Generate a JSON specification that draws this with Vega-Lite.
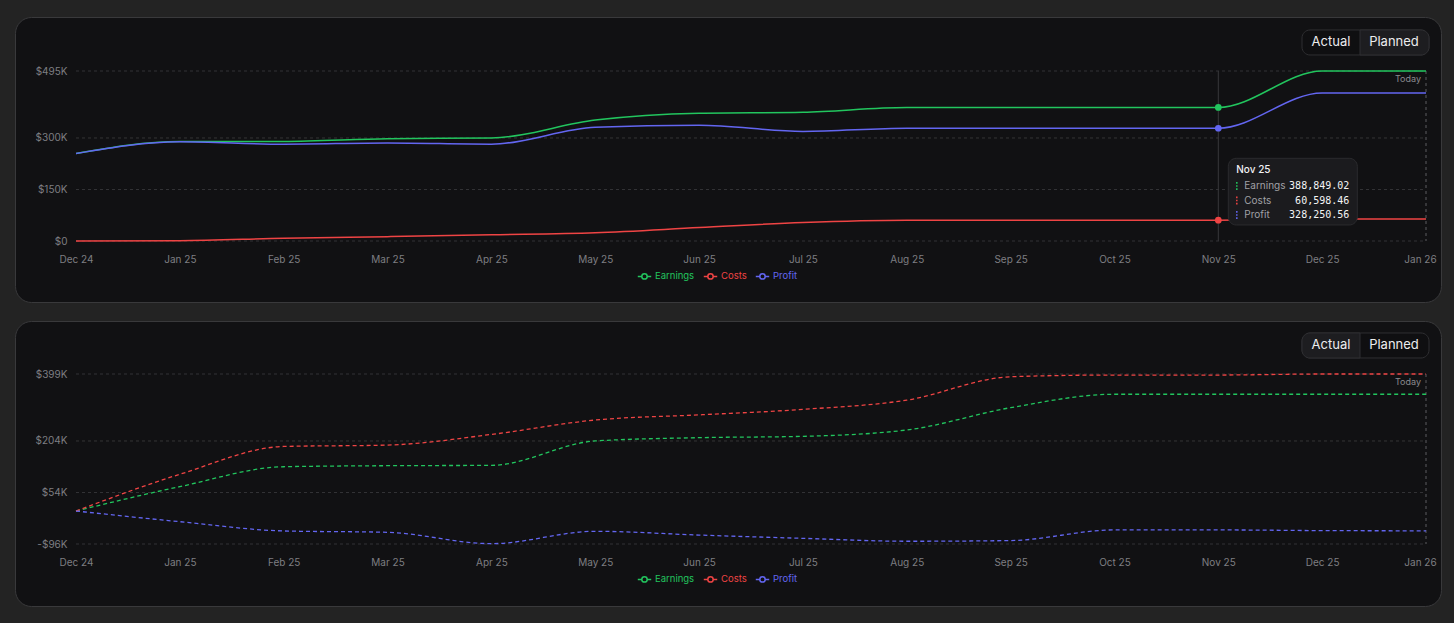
{
  "$schema": "https://vega.github.io/schema/vega-lite/v6.json",
  "background": "#232323",
  "padding": {"left": 14, "top": 16, "right": 14, "bottom": 16},
  "spacing": 17,
  "config": {
    "font": "Inter",
    "view": {"stroke": null},
    "axis": {"labelFont": "Inter", "labelFontSize": 10, "labelColor": "#7e7e82", "domain": false, "ticks": false, "tickSize": 0, "grid": false, "labelPadding": 0},
    "legend": {"padding": 0, "symbolSize": 180, "symbolStrokeWidth": 1.5, "symbolFillColor": "transparent", "labelFontSize": 9.5, "labelFont": "Inter", "labelOffset": 3, "columnPadding": 5}
  },
  "resolve": {"scale": {"color": "independent", "x": "independent", "y": "independent"}, "legend": {"color": "independent"}},
  "datasets": {
    "ticksA": [{"v": 0}, {"v": 150000}, {"v": 300000}, {"v": 495000}],
    "ticksP": [{"v": -96000}, {"v": 54000}, {"v": 204000}, {"v": 399000}],
    "actual": [
      {"month": "Dec 24", "series": "Earnings", "value": 255000},
      {"month": "Jan 25", "series": "Earnings", "value": 290000},
      {"month": "Feb 25", "series": "Earnings", "value": 290000},
      {"month": "Mar 25", "series": "Earnings", "value": 298000},
      {"month": "Apr 25", "series": "Earnings", "value": 300000},
      {"month": "May 25", "series": "Earnings", "value": 352000},
      {"month": "Jun 25", "series": "Earnings", "value": 372000},
      {"month": "Jul 25", "series": "Earnings", "value": 375000},
      {"month": "Aug 25", "series": "Earnings", "value": 388849.02},
      {"month": "Sep 25", "series": "Earnings", "value": 388849.02},
      {"month": "Oct 25", "series": "Earnings", "value": 388849.02},
      {"month": "Nov 25", "series": "Earnings", "value": 388849.02},
      {"month": "Dec 25", "series": "Earnings", "value": 495000},
      {"month": "Jan 26", "series": "Earnings", "value": 495000},
      {"month": "Dec 24", "series": "Costs", "value": 0},
      {"month": "Jan 25", "series": "Costs", "value": 1000},
      {"month": "Feb 25", "series": "Costs", "value": 8000},
      {"month": "Mar 25", "series": "Costs", "value": 12600},
      {"month": "Apr 25", "series": "Costs", "value": 18000},
      {"month": "May 25", "series": "Costs", "value": 24000},
      {"month": "Jun 25", "series": "Costs", "value": 39000},
      {"month": "Jul 25", "series": "Costs", "value": 54000},
      {"month": "Aug 25", "series": "Costs", "value": 60598.46},
      {"month": "Sep 25", "series": "Costs", "value": 60598.46},
      {"month": "Oct 25", "series": "Costs", "value": 60598.46},
      {"month": "Nov 25", "series": "Costs", "value": 60598.46},
      {"month": "Dec 25", "series": "Costs", "value": 64000},
      {"month": "Jan 26", "series": "Costs", "value": 64000},
      {"month": "Dec 24", "series": "Profit", "value": 255000},
      {"month": "Jan 25", "series": "Profit", "value": 289000},
      {"month": "Feb 25", "series": "Profit", "value": 282000},
      {"month": "Mar 25", "series": "Profit", "value": 285400},
      {"month": "Apr 25", "series": "Profit", "value": 282000},
      {"month": "May 25", "series": "Profit", "value": 331000},
      {"month": "Jun 25", "series": "Profit", "value": 337000},
      {"month": "Jul 25", "series": "Profit", "value": 319000},
      {"month": "Aug 25", "series": "Profit", "value": 328250.56},
      {"month": "Sep 25", "series": "Profit", "value": 328250.56},
      {"month": "Oct 25", "series": "Profit", "value": 328250.56},
      {"month": "Nov 25", "series": "Profit", "value": 328250.56},
      {"month": "Dec 25", "series": "Profit", "value": 431000},
      {"month": "Jan 26", "series": "Profit", "value": 431000}
    ],
    "planned": [
      {"month": "Dec 24", "series": "Earnings", "value": 0},
      {"month": "Jan 25", "series": "Earnings", "value": 71000},
      {"month": "Feb 25", "series": "Earnings", "value": 129000},
      {"month": "Mar 25", "series": "Earnings", "value": 132000},
      {"month": "Apr 25", "series": "Earnings", "value": 133000},
      {"month": "May 25", "series": "Earnings", "value": 204000},
      {"month": "Jun 25", "series": "Earnings", "value": 213600},
      {"month": "Jul 25", "series": "Earnings", "value": 217500},
      {"month": "Aug 25", "series": "Earnings", "value": 236000},
      {"month": "Sep 25", "series": "Earnings", "value": 301000},
      {"month": "Oct 25", "series": "Earnings", "value": 340000},
      {"month": "Nov 25", "series": "Earnings", "value": 340000},
      {"month": "Dec 25", "series": "Earnings", "value": 340000},
      {"month": "Jan 26", "series": "Earnings", "value": 340000},
      {"month": "Dec 24", "series": "Costs", "value": 0},
      {"month": "Jan 25", "series": "Costs", "value": 107000},
      {"month": "Feb 25", "series": "Costs", "value": 188000},
      {"month": "Mar 25", "series": "Costs", "value": 192000},
      {"month": "Apr 25", "series": "Costs", "value": 223000},
      {"month": "May 25", "series": "Costs", "value": 265000},
      {"month": "Jun 25", "series": "Costs", "value": 280000},
      {"month": "Jul 25", "series": "Costs", "value": 296000},
      {"month": "Aug 25", "series": "Costs", "value": 323000},
      {"month": "Sep 25", "series": "Costs", "value": 391000},
      {"month": "Oct 25", "series": "Costs", "value": 396000},
      {"month": "Nov 25", "series": "Costs", "value": 396000},
      {"month": "Dec 25", "series": "Costs", "value": 399000},
      {"month": "Jan 26", "series": "Costs", "value": 399000},
      {"month": "Dec 24", "series": "Profit", "value": 0},
      {"month": "Jan 25", "series": "Profit", "value": -31000},
      {"month": "Feb 25", "series": "Profit", "value": -58000},
      {"month": "Mar 25", "series": "Profit", "value": -62000},
      {"month": "Apr 25", "series": "Profit", "value": -95000},
      {"month": "May 25", "series": "Profit", "value": -59000},
      {"month": "Jun 25", "series": "Profit", "value": -70000},
      {"month": "Jul 25", "series": "Profit", "value": -79500},
      {"month": "Aug 25", "series": "Profit", "value": -88000},
      {"month": "Sep 25", "series": "Profit", "value": -86000},
      {"month": "Oct 25", "series": "Profit", "value": -55000},
      {"month": "Nov 25", "series": "Profit", "value": -55000},
      {"month": "Dec 25", "series": "Profit", "value": -57000},
      {"month": "Jan 26", "series": "Profit", "value": -57600}
    ]
  },
  "vconcat": [
    {
      "width": 1426,
      "height": 285,
      "view": {"fill": "#111113", "stroke": "#39393b", "strokeWidth": 1, "cornerRadius": 16},
      "resolve": {"scale": {"y": "independent"}},
      "layer": [
        {
          "layer": [
            {
              "data": {"name": "ticksA"},
              "mark": {"type": "rule", "stroke": "#333336", "strokeDash": [3, 3], "strokeWidth": 1},
              "encoding": {
                "x": {"datum": "Dec 24", "type": "ordinal", "scale": {"type": "point", "domain": ["Dec 24", "Jan 25", "Feb 25", "Mar 25", "Apr 25", "May 25", "Jun 25", "Jul 25", "Aug 25", "Sep 25", "Oct 25", "Nov 25", "Dec 25", "Jan 26"], "range": [61, 1411], "padding": 0}},
                "x2": {"datum": "Jan 26"},
                "y": {"field": "v", "type": "quantitative", "scale": {"domain": [0, 495000], "range": [224, 54], "nice": false, "zero": false}, "axis": {"title": null}}
              }
            },
            {
              "data": {"values": [{}]},
              "mark": {"type": "rule", "stroke": "#38383b", "strokeWidth": 1},
              "encoding": {"x": {"datum": "Nov 25", "type": "ordinal"}, "y": {"datum": 495000, "type": "quantitative"}, "y2": {"datum": 0}}
            },
            {
              "data": {"values": [{}]},
              "mark": {"type": "rule", "stroke": "#5c5c60", "strokeDash": [3, 3], "strokeWidth": 1},
              "encoding": {"x": {"datum": "Jan 26", "type": "ordinal"}, "y": {"datum": 495000, "type": "quantitative"}, "y2": {"datum": 0}}
            },
            {
              "data": {"values": [{}]},
              "mark": {"type": "text", "text": "Today", "align": "right", "baseline": "middle", "dx": -5, "fontSize": 9, "fill": "#8a8a8e"},
              "encoding": {"x": {"datum": "Jan 26", "type": "ordinal"}, "y": {"datum": 471700, "type": "quantitative"}}
            },
            {
              "data": {"name": "actual"},
              "mark": {"type": "line", "interpolate": "monotone", "strokeWidth": 1.5},
              "encoding": {
                "x": {"field": "month", "type": "ordinal", "sort": ["Dec 24", "Jan 25", "Feb 25", "Mar 25", "Apr 25", "May 25", "Jun 25", "Jul 25", "Aug 25", "Sep 25", "Oct 25", "Nov 25", "Dec 25", "Jan 26"],
                  "scale": {"type": "point", "domain": ["Dec 24", "Jan 25", "Feb 25", "Mar 25", "Apr 25", "May 25", "Jun 25", "Jul 25", "Aug 25", "Sep 25", "Oct 25", "Nov 25", "Dec 25", "Jan 26"], "range": [61, 1411], "padding": 0},
                  "axis": {"title": null, "offset": -43, "labelPadding": 0, "labelAngle": 0, "labelAlign": "center", "labelBaseline": "middle", "labelOverlap": false, "labelFlush": false, "labelOffset": {"condition": {"test": "datum.value === 'Jan 26'", "value": -6}, "value": 0}}},
                "y": {"field": "value", "type": "quantitative",
                  "axis": {"title": null, "values": [0, 150000, 300000, 495000], "labelExpr": "datum.value === 0 ? '$0' : (datum.value < 0 ? '-$' : '$') + format(abs(datum.value) / 1000, 'd') + 'K'", "offset": -52, "labelPadding": 0, "labelBaseline": "middle", "labelAlign": "right", "labelFlush": false, "labelOverlap": false}},
                "color": {"field": "series", "type": "nominal",
                  "scale": {"domain": ["Earnings", "Costs", "Profit"], "range": ["#22c55e", "#ef4444", "#6366f1"]},
                  "legend": {"title": null, "orient": "none", "legendX": 622, "legendY": 251.5, "direction": "horizontal", "symbolType": "M-1,0H-0.4M0.4,0H1M0.4,0A0.4,0.4,0,1,1,-0.4,0A0.4,0.4,0,1,1,0.4,0", "labelColor": {"expr": "datum.value === 'Earnings' ? '#22c55e' : datum.value === 'Costs' ? '#ef4444' : '#6366f1'"}}}
              }
            },
            {
              "data": {"name": "actual"},
              "transform": [{"filter": "datum.month === 'Nov 25'"}],
              "mark": {"type": "point", "filled": true, "size": 45, "opacity": 1},
              "encoding": {
                "x": {"field": "month", "type": "ordinal"},
                "y": {"field": "value", "type": "quantitative"},
                "fill": {"condition": [{"test": "datum.series === 'Earnings'", "value": "#22c55e"}, {"test": "datum.series === 'Costs'", "value": "#ef4444"}], "value": "#6366f1"}
              }
            },
            {
              "data": {"values": [{}]},
              "mark": {"type": "rect", "fill": "#0f0f11", "stroke": "#2f2f32", "strokeWidth": 1, "cornerRadius": 8, "xOffset": -124, "x2Offset": 3},
              "encoding": {"x": {"datum": "Jan 26", "type": "ordinal"}, "x2": {"datum": "Jan 26"}, "y": {"datum": 614400, "type": "quantitative"}, "y2": {"datum": 541600}}
            },
            {
              "data": {"values": [{}]},
              "mark": {"type": "rect", "fill": "#1d1d20", "stroke": "#2f2f32", "strokeWidth": 1, "cornerRadiusTopRight": 8, "cornerRadiusBottomRight": 8, "xOffset": -66, "x2Offset": 3},
              "encoding": {"x": {"datum": "Jan 26", "type": "ordinal"}, "x2": {"datum": "Jan 26"}, "y": {"datum": 614400, "type": "quantitative"}, "y2": {"datum": 541600}}
            },
            {
              "data": {"values": [{}]},
              "mark": {"type": "text", "text": "Actual", "align": "center", "baseline": "middle", "dx": -95, "fontSize": 13, "fill": "#ececee"},
              "encoding": {"x": {"datum": "Jan 26", "type": "ordinal"}, "y": {"datum": 578000, "type": "quantitative"}}
            },
            {
              "data": {"values": [{}]},
              "mark": {"type": "text", "text": "Planned", "align": "center", "baseline": "middle", "dx": -32, "fontSize": 13, "fill": "#ececee"},
              "encoding": {"x": {"datum": "Jan 26", "type": "ordinal"}, "y": {"datum": 578000, "type": "quantitative"}}
            },
            {
              "data": {"values": [{}]},
              "mark": {"type": "rect", "fill": "#1b1b1e", "stroke": "#2b2b2e", "strokeWidth": 1, "cornerRadius": 8, "xOffset": 10, "x2Offset": 139},
              "encoding": {"x": {"datum": "Nov 25", "type": "ordinal"}, "x2": {"datum": "Nov 25"}, "y": {"datum": 240800, "type": "quantitative"}, "y2": {"datum": 46600}}
            },
            {
              "data": {"values": [{}]},
              "mark": {"type": "text", "text": "Nov 25", "align": "left", "baseline": "middle", "dx": 18, "fontSize": 10, "fontWeight": 500, "fill": "#f2f2f4"},
              "encoding": {"x": {"datum": "Nov 25", "type": "ordinal"}, "y": {"datum": 205900, "type": "quantitative"}}
            }
          ]
        },
        {
          "data": {"name": "actual"},
          "transform": [{"filter": "datum.month === 'Nov 25'"}],
          "encoding": {
            "x": {"datum": "Nov 25", "type": "ordinal"},
            "y": {"field": "series", "type": "ordinal", "scale": {"type": "point", "domain": ["Earnings", "Costs", "Profit"], "range": [169, 198], "padding": 0}, "axis": null}
          },
          "layer": [
            {
              "mark": {"type": "point", "shape": "M0,-1V-0.55M0,-0.2V0.2M0,0.55V1", "size": 64, "strokeWidth": 1.5, "filled": false, "opacity": 1, "xOffset": 18.5},
              "encoding": {"stroke": {"condition": [{"test": "datum.series === 'Earnings'", "value": "#22c55e"}, {"test": "datum.series === 'Costs'", "value": "#ef4444"}], "value": "#6366f1"}}
            },
            {
              "mark": {"type": "text", "align": "left", "baseline": "middle", "dx": 26, "fontSize": 10, "fill": "#a1a1a6"},
              "encoding": {"text": {"field": "series", "type": "nominal"}}
            },
            {
              "mark": {"type": "text", "align": "right", "baseline": "middle", "dx": 131, "fontSize": 10, "font": "DejaVu Sans Mono", "fill": "#f4f4f5"},
              "encoding": {"text": {"field": "value", "type": "quantitative", "format": ",.2f"}}
            }
          ]
        }
      ]
    },
    {
      "width": 1426,
      "height": 285,
      "view": {"fill": "#111113", "stroke": "#39393b", "strokeWidth": 1, "cornerRadius": 16},
      "layer": [
        {
          "data": {"name": "ticksP"},
          "mark": {"type": "rule", "stroke": "#333336", "strokeDash": [3, 3], "strokeWidth": 1},
          "encoding": {
            "x": {"datum": "Dec 24", "type": "ordinal", "scale": {"type": "point", "domain": ["Dec 24", "Jan 25", "Feb 25", "Mar 25", "Apr 25", "May 25", "Jun 25", "Jul 25", "Aug 25", "Sep 25", "Oct 25", "Nov 25", "Dec 25", "Jan 26"], "range": [61, 1411], "padding": 0}},
            "x2": {"datum": "Jan 26"},
            "y": {"field": "v", "type": "quantitative", "scale": {"domain": [-96000, 399000], "range": [223, 53], "nice": false, "zero": false}, "axis": {"title": null}}
          }
        },
        {
          "data": {"values": [{}]},
          "mark": {"type": "rule", "stroke": "#5c5c60", "strokeDash": [3, 3], "strokeWidth": 1},
          "encoding": {"x": {"datum": "Jan 26", "type": "ordinal"}, "y": {"datum": 399000, "type": "quantitative"}, "y2": {"datum": -96000}}
        },
        {
          "data": {"values": [{}]},
          "mark": {"type": "text", "text": "Today", "align": "right", "baseline": "middle", "dx": -5, "fontSize": 9, "fill": "#8a8a8e"},
          "encoding": {"x": {"datum": "Jan 26", "type": "ordinal"}, "y": {"datum": 374800, "type": "quantitative"}}
        },
        {
          "data": {"name": "planned"},
          "mark": {"type": "line", "interpolate": "monotone", "strokeWidth": 1.3, "strokeDash": [4, 3]},
          "encoding": {
            "x": {"field": "month", "type": "ordinal", "sort": ["Dec 24", "Jan 25", "Feb 25", "Mar 25", "Apr 25", "May 25", "Jun 25", "Jul 25", "Aug 25", "Sep 25", "Oct 25", "Nov 25", "Dec 25", "Jan 26"],
              "scale": {"type": "point", "domain": ["Dec 24", "Jan 25", "Feb 25", "Mar 25", "Apr 25", "May 25", "Jun 25", "Jul 25", "Aug 25", "Sep 25", "Oct 25", "Nov 25", "Dec 25", "Jan 26"], "range": [61, 1411], "padding": 0},
              "axis": {"title": null, "offset": -44, "labelPadding": 0, "labelAngle": 0, "labelAlign": "center", "labelBaseline": "middle", "labelOverlap": false, "labelFlush": false, "labelOffset": {"condition": {"test": "datum.value === 'Jan 26'", "value": -6}, "value": 0}}},
            "y": {"field": "value", "type": "quantitative",
              "axis": {"title": null, "values": [-96000, 54000, 204000, 399000], "labelExpr": "datum.value === 0 ? '$0' : (datum.value < 0 ? '-$' : '$') + format(abs(datum.value) / 1000, 'd') + 'K'", "offset": -52, "labelPadding": 0, "labelBaseline": "middle", "labelAlign": "right", "labelFlush": false, "labelOverlap": false}},
            "color": {"field": "series", "type": "nominal",
              "scale": {"domain": ["Earnings", "Costs", "Profit"], "range": ["#22c55e", "#ef4444", "#6366f1"]},
              "legend": {"title": null, "orient": "none", "legendX": 622, "legendY": 250.5, "direction": "horizontal", "symbolDash": [], "symbolType": "M-1,0H-0.4M0.4,0H1M0.4,0A0.4,0.4,0,1,1,-0.4,0A0.4,0.4,0,1,1,0.4,0", "labelColor": {"expr": "datum.value === 'Earnings' ? '#22c55e' : datum.value === 'Costs' ? '#ef4444' : '#6366f1'"}}}
          }
        },
        {
          "data": {"values": [{}]},
          "mark": {"type": "rect", "fill": "#0f0f11", "stroke": "#2f2f32", "strokeWidth": 1, "cornerRadius": 8, "xOffset": -124, "x2Offset": 3},
          "encoding": {"x": {"datum": "Jan 26", "type": "ordinal"}, "x2": {"datum": "Jan 26"}, "y": {"datum": 518400, "type": "quantitative"}, "y2": {"datum": 445600}}
        },
        {
          "data": {"values": [{}]},
          "mark": {"type": "rect", "fill": "#1d1d20", "stroke": "#2f2f32", "strokeWidth": 1, "cornerRadiusTopLeft": 8, "cornerRadiusBottomLeft": 8, "xOffset": -124, "x2Offset": -66},
          "encoding": {"x": {"datum": "Jan 26", "type": "ordinal"}, "x2": {"datum": "Jan 26"}, "y": {"datum": 518400, "type": "quantitative"}, "y2": {"datum": 445600}}
        },
        {
          "data": {"values": [{}]},
          "mark": {"type": "text", "text": "Actual", "align": "center", "baseline": "middle", "dx": -95, "fontSize": 13, "fill": "#ececee"},
          "encoding": {"x": {"datum": "Jan 26", "type": "ordinal"}, "y": {"datum": 482000, "type": "quantitative"}}
        },
        {
          "data": {"values": [{}]},
          "mark": {"type": "text", "text": "Planned", "align": "center", "baseline": "middle", "dx": -32, "fontSize": 13, "fill": "#ececee"},
          "encoding": {"x": {"datum": "Jan 26", "type": "ordinal"}, "y": {"datum": 482000, "type": "quantitative"}}
        }
      ]
    }
  ]
}
